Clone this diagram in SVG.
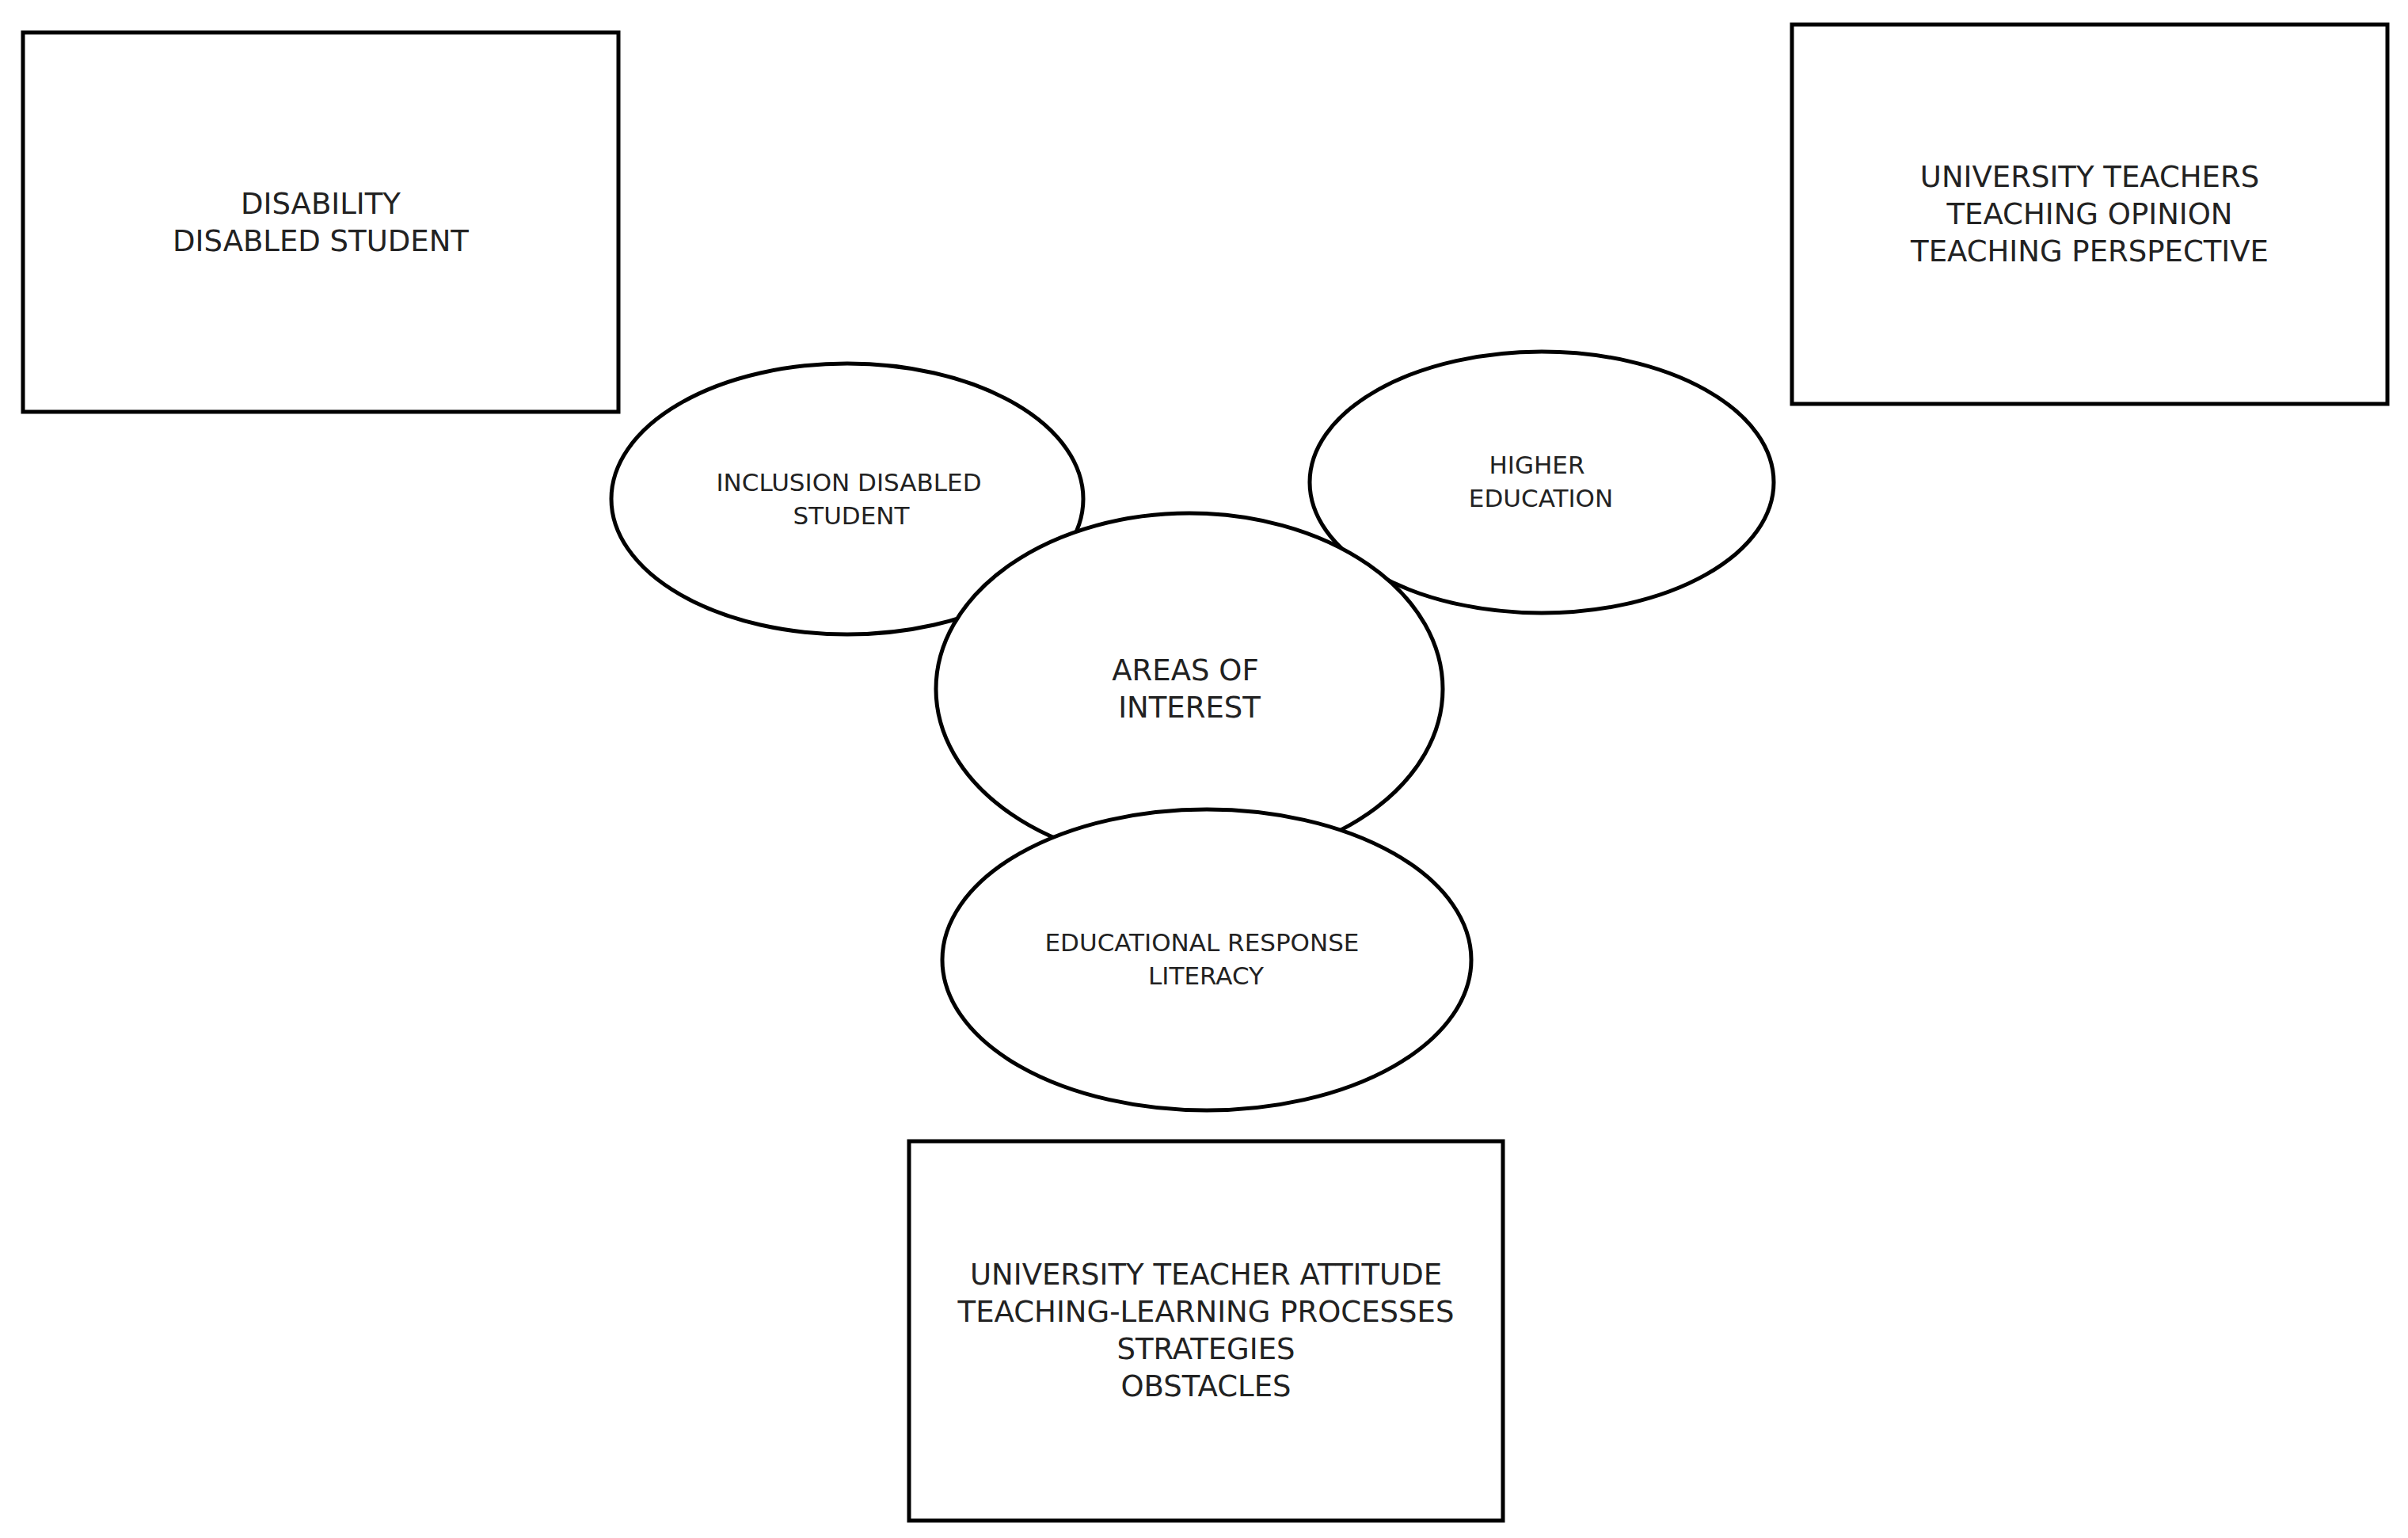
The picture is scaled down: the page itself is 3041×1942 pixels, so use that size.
<svg xmlns="http://www.w3.org/2000/svg" width="3041" height="1942" viewBox="0 0 3041 1942">
<style>
.s{fill:#fff;stroke:#000;stroke-width:5}
text{font-family:"DejaVu Sans",Verdana,sans-serif;fill:#222;text-anchor:middle}
.b{font-size:37px}
.e{font-size:31px}
</style>
<rect width="3041" height="1942" fill="#fff"/>
<g id="box-disability"><rect class="s" x="29" y="41" width="752" height="479"/>
<text class="b" x="405" y="270">DISABILITY</text><text class="b" x="405" y="317">DISABLED STUDENT</text></g>
<g id="box-teachers"><rect class="s" x="2263" y="31" width="752" height="479"/>
<text class="b" x="2639" y="236">UNIVERSITY TEACHERS</text><text class="b" x="2639" y="283">TEACHING OPINION</text><text class="b" x="2639" y="330">TEACHING PERSPECTIVE</text></g>
<g id="box-attitude"><rect class="s" x="1148" y="1441" width="750" height="479"/>
<text class="b" x="1523" y="1622">UNIVERSITY TEACHER ATTITUDE</text><text class="b" x="1523" y="1669">TEACHING-LEARNING PROCESSES</text><text class="b" x="1523" y="1716">STRATEGIES</text><text class="b" x="1523" y="1763">OBSTACLES</text></g>
<g id="ell-inclusion"><ellipse class="s" cx="1070" cy="630" rx="298" ry="171"/>
<text class="e" x="1072" y="620">INCLUSION DISABLED</text><text class="e" x="1075" y="662">STUDENT</text></g>
<g id="ell-higher"><ellipse class="s" cx="1947" cy="609" rx="293" ry="165"/>
<text class="e" x="1941" y="598">HIGHER</text><text class="e" x="1946" y="640">EDUCATION</text></g>
<g id="ell-areas"><ellipse class="s" cx="1502" cy="870" rx="320" ry="222"/>
<text class="b" x="1497" y="859">AREAS OF</text><text class="b" x="1502" y="906">INTEREST</text></g>
<g id="ell-educational"><ellipse class="s" cx="1524" cy="1212" rx="334" ry="190"/>
<text class="e" x="1518" y="1201">EDUCATIONAL RESPONSE</text><text class="e" x="1523" y="1243">LITERACY</text></g>
<g id="connectors"/>
</svg>
